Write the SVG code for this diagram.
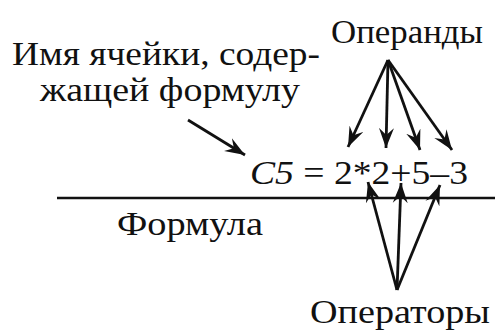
<svg xmlns="http://www.w3.org/2000/svg" width="495" height="334" viewBox="0 0 495 334">
<style>
text{font-family:"Liberation Serif","Times New Roman","DejaVu Serif",serif;font-size:34px;fill:#111}
.c{stroke:#111;stroke-width:2.8;fill:none;marker-end:url(#ah)}
</style>
<defs>
<marker id="ah" markerUnits="userSpaceOnUse" viewBox="-20 -8 22 16" markerWidth="22" markerHeight="16" refX="0" refY="0" orient="auto">
<path d="M0,0 L-20,-7.5 L-13,0 L-20,7.5 Z" fill="#111"/>
</marker>
</defs>
<rect width="495" height="334" fill="#fff"/>
<g id="operands"><text x="331" y="43" textLength="152" lengthAdjust="spacingAndGlyphs">Операнды</text></g>
<g id="cellname"><text x="12" y="65" textLength="308" lengthAdjust="spacingAndGlyphs">Имя ячейки, содер-</text><text x="40" y="101" textLength="260" lengthAdjust="spacingAndGlyphs">жащей формулу</text></g>
<g id="formula"><text x="250" y="184" textLength="218" lengthAdjust="spacingAndGlyphs"><tspan font-style="italic">C5</tspan> = 2*2+5–3</text></g>
<g id="formulaLabel"><text x="117" y="235" textLength="146" lengthAdjust="spacingAndGlyphs">Формула</text></g>
<g id="operators"><text x="310" y="323" textLength="180" lengthAdjust="spacingAndGlyphs">Операторы</text></g>
<g id="connectors">
<line x1="57" y1="198" x2="495" y2="198" stroke="#111" stroke-width="2.6"/>
<line class="c" x1="188" y1="120" x2="245" y2="155"/>
<line class="c" x1="388" y1="60" x2="348" y2="147"/>
<line class="c" x1="388" y1="60" x2="386" y2="148"/>
<line class="c" x1="388" y1="60" x2="420" y2="150"/>
<line class="c" x1="388" y1="60" x2="452" y2="150"/>
<line class="c" x1="397" y1="290" x2="368" y2="182"/>
<line class="c" x1="397" y1="290" x2="401" y2="183"/>
<line class="c" x1="397" y1="290" x2="440" y2="185"/>
</g>
</svg>
